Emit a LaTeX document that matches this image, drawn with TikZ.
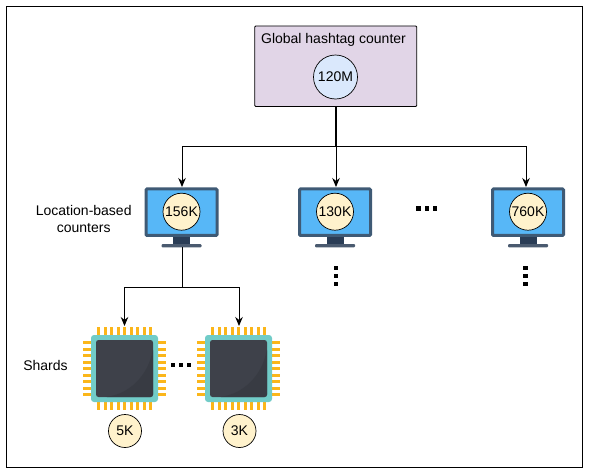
\documentclass[tikz,border=0pt]{standalone}
\usepackage{fontspec}
\setmainfont{Liberation Sans}
\usetikzlibrary{arrows.meta,calc}
\definecolor{monframe}{HTML}{3F5A75}
\definecolor{monstand}{HTML}{2A3D56}
\definecolor{monscreen}{HTML}{57B7F7}
\definecolor{chipteal}{HTML}{71CCC8}
\definecolor{chipdark}{HTML}{3E414A}
\definecolor{chipshade}{HTML}{383B43}
\definecolor{chippin}{HTML}{FBB61A}
\definecolor{countyellow}{HTML}{FFF2CC}
\definecolor{globalpurple}{HTML}{E1D5E7}
\definecolor{globalblue}{HTML}{DAE8FC}
\tikzset{
  labeltext/.style={font=\fontsize{14}{16.5}\selectfont,text=black,inner sep=0pt,align=center},
  countcircle/.style={circle,draw=black,line width=0.7pt,inner sep=0pt,font=\fontsize{14}{16}\selectfont},
  yellowcount/.style={countcircle,fill=countyellow},
  monitorbody/.style={rectangle,rounded corners=1pt,fill=monscreen,draw=monframe,line width=3pt,minimum width=71pt,minimum height=46.5pt,inner sep=0pt},
  chipbody/.style={rectangle,rounded corners=3pt,fill=chipteal,minimum width=67pt,minimum height=67pt,inner sep=0pt},
  conn/.style={draw=black,line width=0.9pt},
  connarrow/.style={conn,-{Stealth[length=9pt,width=7.5pt]}},
  dotmark/.style={rectangle,fill=black,minimum size=4.2pt,inner sep=0pt},
  pinline/.style={draw=chippin,line width=3pt}
}
\newcommand{\monitorat}[3]{% name, x, label
  \fill[monstand] (#2-8.5,237) rectangle (#2+8.5,245);
  \fill[monstand!85!white,rounded corners=1pt] (#2-20,244) rectangle (#2+20,247.3);
  \node[monitorbody] (#1) at (#2,212.2) {};
  \node[yellowcount,minimum size=37pt] (#1c) at (#2,211.7) {#3};
}
\newcommand{\chipat}[2]{% name, x
  \foreach \k in {-4,...,4}{
    \draw[pinline] (#2+\k*6.5,327) -- (#2+\k*6.5,409.5);
    \draw[pinline] (#2-41.5,368.5+\k*6.5) -- (#2+41.5,368.5+\k*6.5);
  }
  \node[chipbody] (#1) at (#2,368.5) {};
  \fill[chipdark,rounded corners=2.5pt] (#2-28.5,340) rectangle (#2+28.5,397);
  \fill[chipshade,rounded corners=2.5pt] (#2-20,397) .. controls (#2+5,394) and (#2+24,375) .. (#2+28.5,348) -- (#2+28.5,397) -- cycle;
}
\begin{document}
\begin{tikzpicture}[x=1pt,y=-1pt]
\useasboundingbox (0,0) rectangle (591,474);
\draw[black,line width=1pt] (6.5,6.5) rectangle (582.5,467.5);
% global counter
\node[rectangle,draw=black,line width=0.9pt,fill=globalpurple,rounded corners=1pt,minimum width=162pt,minimum height=80.5pt,inner sep=0pt] (global) at (335.7,66.2) {};
\node[labeltext] (globaltext) at (333.5,40) {Global hashtag counter};
\node[countcircle,fill=globalblue,minimum size=44pt] (globalc) at (335.5,77) {120M};
% monitors
\monitorat{mona}{181.5}{156K}
\monitorat{monb}{335}{130K}
\monitorat{monc}{528}{760K}
% chips
\chipat{chipa}{124.5}
\chipat{chipb}{238.5}
\node[yellowcount,minimum size=33pt] (cnta) at (125,431) {5K};
\node[yellowcount,minimum size=33pt] (cntb) at (239.5,431) {3K};
% connectors
\coordinate (hub) at (336,146.5);
\coordinate (huba) at (182,146.5);
\coordinate (hubc) at (526,146.5);
\coordinate (taila) at (182,247.3);
\coordinate (lowhub) at (182,287);
\coordinate (lowa) at (124.5,287);
\coordinate (lowb) at (239,287);
\coordinate (chipatop) at (124.5,326);
\coordinate (chipbtop) at (239,326);
\coordinate (monatop) at (182,187);
\coordinate (monbtop) at (336,187);
\coordinate (monctop) at (526,187);
\draw[conn,line width=1.4pt] (global.south -| hub) -- (hub);
\draw[connarrow] (hub) -- (huba) -- (monatop);
\draw[connarrow] (hub) -- (monbtop);
\draw[connarrow] (hub) -- (hubc) -- (monctop);
\draw[conn] (taila) -- (lowhub);
\draw[connarrow] (lowhub) -- (lowa) -- (chipatop);
\draw[connarrow] (lowhub) -- (lowb) -- (chipbtop);
% labels
\node[labeltext] (loc) at (83.7,219) {Location-based\\counters};
\node[labeltext] (shards) at (45.5,365) {Shards};
% dots
\foreach \n/\x in {1/418.5,2/426.7,3/435}{\node[dotmark] (hd\n) at (\x,208.5) {};}
\foreach \n/\x in {1/173.3,2/181.3,3/189.3}{\node[dotmark] (cd\n) at (\x,365) {};}
\foreach \n/\y in {1/268.3,2/276.3,3/284.3}{
  \node[dotmark] (va\n) at (336,\y) {};
  \node[dotmark] (vb\n) at (525.5,\y) {};
}
\end{tikzpicture}
\end{document}
